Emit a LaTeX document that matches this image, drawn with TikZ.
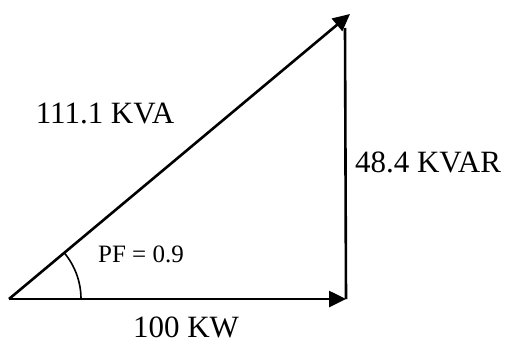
\documentclass[tikz,border=0pt]{standalone}
\usepackage{fontspec}
\setmainfont{Liberation Serif}
\usetikzlibrary{arrows.meta}
\begin{document}
\begin{tikzpicture}[x=1pt,y=-1pt,
  vec/.style={line width=2.6pt,-{Triangle[length=17pt,width=16pt]}},
  side/.style={line width=2.6pt},
  lbl/.style={inner sep=0pt,font=\fontsize{31}{36}\selectfont},
  small/.style={inner sep=0pt,font=\fontsize{25}{30}\selectfont}]
\useasboundingbox (0,0) rectangle (508,343);
\coordinate (O) at (9,299);
\coordinate (B) at (346,299);
\coordinate (C) at (345,28);
\coordinate (T) at (350,14);
\draw[vec] (O) -- (B);
\draw[side] (B) -- (C);
\draw[vec] (O) -- (T);
\draw[line width=1.6pt] (O) ++(72,0) arc[start angle=0,end angle=-40,radius=72];
\node[lbl] (kva) at (105,113) {111.1 KVA};
\node[lbl] (kvar) at (428,162) {48.4 KVAR};
\node[small] (pf) at (141,254) {PF = 0.9};
\node[lbl] (kw) at (186,327) {100 KW};
\end{tikzpicture}
\end{document}
